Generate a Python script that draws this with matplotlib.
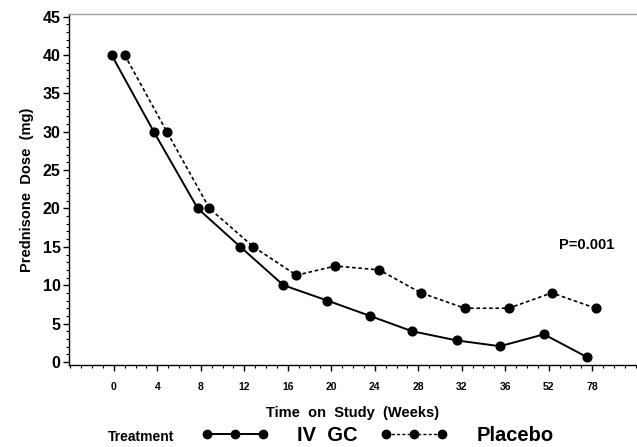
import numpy as np
import matplotlib.pyplot as plt
from matplotlib.lines import Line2D

plt.rcParams['font.family'] = ['Liberation Sans', 'DejaVu Sans']
plt.rcParams['font.weight'] = 'bold'

# categorical week labels (equally spaced on the axis)
week_labels = ['0', '4', '8', '12', '16', '20', '24', '28', '32', '36', '52', '78']

# plotted positions (index units, points are slightly offset from the ticks)
ivgc_pos = [-0.05, 0.92, 1.93, 2.91, 3.90, 4.91, 5.89, 6.86, 7.89, 8.88, 9.89, 10.89]
placebo_pos = [0.25, 1.22, 2.20, 3.21, 4.20, 5.09, 6.10, 7.06, 8.07, 9.08, 10.07, 11.08]

ivgc_dose = [40, 30, 20, 15, 10.0, 8.0, 6.0, 4.0, 2.8, 2.05, 3.6, 0.6]
placebo_dose = [40, 30, 20, 15, 11.3, 12.5, 12.0, 9.0, 7.0, 7.0, 9.0, 7.0]

fig = plt.figure(figsize=(6.37, 4.47), dpi=100)
ax = fig.add_axes([0.1083, 0.1834, 0.8897, 0.7846])

ax.plot(ivgc_pos, ivgc_dose, color='black', linewidth=1.4, marker='o', markersize=6.3)
ax.plot(placebo_pos, placebo_dose, color='black', linewidth=1.2, linestyle=(0, (2.2, 1.6)),
        marker='o', markersize=6.3)

ax.set_xlim(-1.03, 12.0)
ax.set_ylim(-0.4, 45.3)

ax.set_xticks(np.arange(len(week_labels)))
ax.set_xticklabels(week_labels, fontsize=7.5, fontweight='bold')
ax.set_xticks(np.arange(-1, 12.01, 0.25), minor=True)
ax.set_yticks(np.arange(0, 46, 5))
ax.set_yticklabels([str(v) for v in range(0, 46, 5)], fontsize=11.5, fontweight='bold')
ax.set_yticks(np.arange(0, 46, 1), minor=True)

ax.tick_params(axis='both', which='major', direction='out', length=4, width=1, color='black')
ax.tick_params(axis='both', which='minor', direction='out', length=2, width=0.8, color='black')
ax.tick_params(axis='x', which='major', pad=8)
ax.tick_params(axis='y', which='major', pad=2)

ax.spines['right'].set_visible(False)
ax.spines['top'].set_color('#a0a0a0')
ax.spines['top'].set_linewidth(1.0)
ax.spines['left'].set_linewidth(1.0)
ax.spines['bottom'].set_linewidth(1.0)

ax.set_xlabel('Time  on  Study  (Weeks)', fontsize=10.5, fontweight='bold', labelpad=10)
ax.set_ylabel('Prednisone  Dose  (mg)', fontsize=10.5, fontweight='bold', labelpad=6)

ax.text(10.87, 15.3, 'P=0.001', fontsize=10.5, fontweight='bold', ha='center', va='center')

# legend row at the bottom
fig.text(0.222, 0.022, 'Treatment', fontsize=10, fontweight='bold', ha='center', va='center')
h_iv = Line2D([], [], color='black', linewidth=1.4, marker='o', markersize=6)
h_pl = Line2D([], [], color='black', linewidth=1.0, linestyle=(0, (2.2, 1.6)),
              marker='o', markersize=6)
fig.legend([h_iv, h_pl], ['IV  GC', 'Placebo'], loc='center', bbox_to_anchor=(0.592, 0.025),
           ncol=2, numpoints=3, frameon=False, handlelength=3.4, handletextpad=1.4,
           columnspacing=1.1, prop={'size': 14.5, 'weight': 'bold'})

fig.savefig('out.png', dpi=100)
